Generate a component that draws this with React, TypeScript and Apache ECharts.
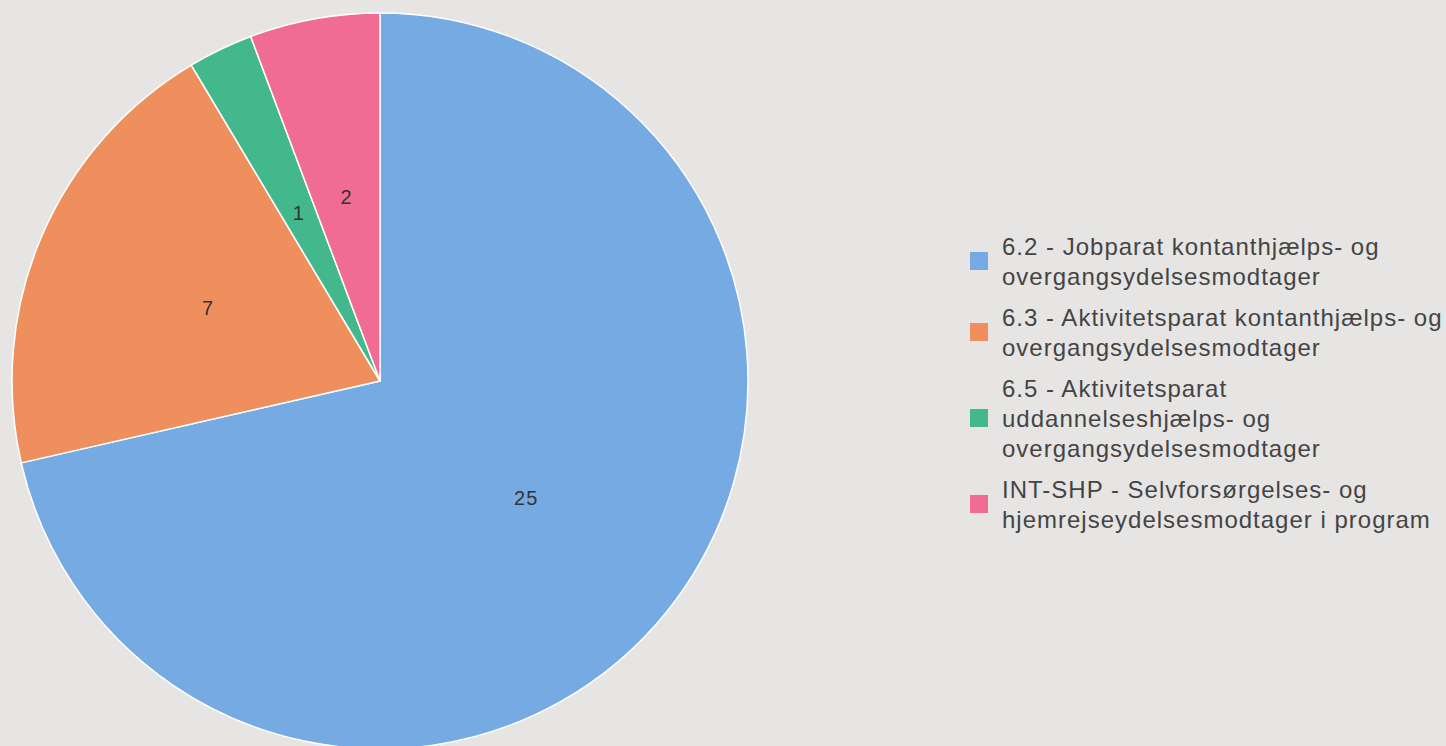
import React, { useEffect, useRef } from "react";
import * as echarts from "echarts";

const categories = [
  "6.2 - Jobparat kontanthjælps- og\novergangsydelsesmodtager",
  "6.3 - Aktivitetsparat kontanthjælps- og\novergangsydelsesmodtager",
  "6.5 - Aktivitetsparat\nuddannelseshjælps- og\novergangsydelsesmodtager",
  "INT-SHP - Selvforsørgelses- og\nhjemrejseydelsesmodtager i program",
];
const values = [25, 7, 1, 2];
const colors = ["#76aae2", "#ef8f5e", "#43b88c", "#f06c96"];

export default function App() {
  const ref = useRef<HTMLDivElement>(null);
  useEffect(() => {
    if (!ref.current) return;
    const chart = echarts.init(ref.current, undefined, { renderer: "svg" });
    chart.setOption({
      animation: false,
      backgroundColor: "#e6e5e4",
      color: colors,
      legend: {
        orient: "vertical",
        left: 970,
        top: 231,
        padding: 0,
        itemWidth: 18,
        itemHeight: 18,
        itemGap: 11,
        icon: "rect",
        selectedMode: false,
        itemStyle: { borderWidth: 0 },
        textStyle: {
          fontFamily: "Liberation Sans, Arial, sans-serif",
          fontSize: 24,
          color: "#444",
          lineHeight: 30,
          padding: [0, 0, 0, 9],
        },
        data: categories,
      },
      series: [
        {
          type: "pie",
          center: [380, 381],
          radius: 368,
          startAngle: 90,
          clockwise: true,
          label: {
            show: true,
            position: "inside",
            formatter: "{c}",
            fontFamily: "Liberation Sans, Arial, sans-serif",
            fontSize: 20,
            color: "#333",
          },
          labelLine: { show: false },
          itemStyle: { borderColor: "#ffffff", borderWidth: 1.5 },
          emphasis: { disabled: true },
          data: categories.map((name, i) => ({ name, value: values[i] })),
        },
      ],
    });
    return () => chart.dispose();
  }, []);
  return (
    <>
      <style>{`.chart-root svg text { letter-spacing: 1px; }`}</style>
      <div
        ref={ref}
        className="chart-root"
        style={{ position: "fixed", left: 0, top: 0, width: 1446, height: 746 }}
      />
    </>
  );
}
